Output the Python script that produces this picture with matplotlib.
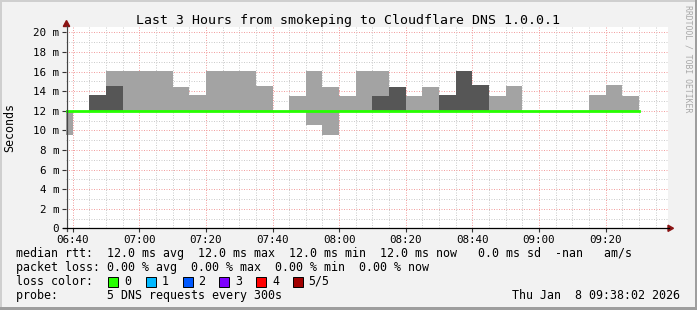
import numpy as np
import matplotlib.pyplot as plt
from matplotlib.patches import Rectangle, Polygon
from matplotlib.lines import Line2D
from matplotlib.ticker import MultipleLocator, FuncFormatter

# 5-minute smokeping slots (start time of each slot)
slot_start = ["06:35", "06:40", "06:45", "06:50", "06:55", "07:00", "07:05",
              "07:10", "07:15", "07:20", "07:25", "07:30", "07:35", "07:40",
              "07:45", "07:50", "07:55", "08:00", "08:05", "08:10", "08:15",
              "08:20", "08:25", "08:30", "08:35", "08:40", "08:45", "08:50",
              "08:55", "09:00", "09:05", "09:10", "09:15", "09:20", "09:25"]
nan = np.nan
# light smoke band (ms)
light_lo = [9.5, nan, nan, 12, 12, 12, 12, 12, 12, 12, 12, 12, 12, nan,
            12, 10.5, 9.5, 12, 12, 12, nan, 12, 12, nan, nan, nan, 12, 12,
            nan, nan, nan, nan, 12, 12, 12]
light_hi = [12, nan, nan, 16, 16, 16, 16, 14.4, 13.6, 16, 16, 16, 14.5, nan,
            13.5, 16, 14.4, 13.5, 16, 16, nan, 13.5, 14.4, nan, nan, nan, 13.5, 14.5,
            nan, nan, nan, nan, 13.6, 14.6, 13.5]
# dark smoke band (ms)
dark_lo = [nan, nan, 12, 12, nan, nan, nan, nan, nan, nan, nan, nan, nan, nan,
           nan, nan, nan, nan, nan, 12, 12, nan, nan, 12, 12, 12, nan, nan,
           nan, nan, nan, nan, nan, nan, nan]
dark_hi = [nan, nan, 13.6, 14.5, nan, nan, nan, nan, nan, nan, nan, nan, nan, nan,
           nan, nan, nan, nan, nan, 13.5, 14.4, nan, nan, 13.6, 16, 14.6, nan, nan,
           nan, nan, nan, nan, nan, nan, nan]
median = [12.0, 12.0, 12.0, 12.0, 12.0, 12.0, 12.0, 12.0, 12.0, 12.0, 12.0, 12.0,
          12.0, 12.0, 12.0, 12.0, 12.0, 12.0, 12.0, 12.0, 12.0, 12.0, 12.0, 12.0,
          12.0, 12.0, 12.0, 12.0, 12.0, 12.0, 12.0, 12.0, 12.0, 12.0, 12.0]

legend_rtt = "median rtt:  12.0 ms avg  12.0 ms max  12.0 ms min  12.0 ms now   0.0 ms sd  -nan   am/s"
legend_loss = "packet loss: 0.00 % avg  0.00 % max  0.00 % min  0.00 % now"
legend_probe = "probe:       5 DNS requests every 300s"
stamp = "Thu Jan  8 09:38:02 2026"
loss_labels = ["0", "1", "2", "3", "4", "5/5"]
loss_colors = ["#26ff00", "#00b8ff", "#0059ff", "#7e00ff", "#ff0000", "#a10000"]

W, H = 697, 310
FONT = "DejaVu Sans Mono"
plt.rcParams["font.family"] = FONT


def fx(x):
    return x / W


def fy(y):
    return 1 - y / H


def to_min(s):
    h, m = s.split(":")
    return int(h) * 60 + int(m)


fig = plt.figure(figsize=(W / 100, H / 100), dpi=100, facecolor="#f2f2f2")

# plot area in pixels
X0, X1 = 66.1, 668.3
Y0, Y1 = 228.3, 26.5
PX_MIN = 3.331
PX_MS = 9.8
T0 = 6 * 60 + 38 + 2 / 60

ax = fig.add_axes([fx(X0), fy(Y0), (X1 - X0) / W, (Y0 - Y1) / H])
ax.set_facecolor("white")
ax.set_xlim(T0, T0 + (X1 - X0) / PX_MIN)
ax.set_ylim(0, (Y0 - Y1) / PX_MS)
for s in ax.spines.values():
    s.set_visible(False)

t = np.array([to_min(s) for s in slot_start], dtype=float)
llo, lhi = np.array(light_lo), np.array(light_hi)
dlo, dhi = np.array(dark_lo), np.array(dark_hi)
m = ~np.isnan(llo)
ax.bar(t[m], lhi[m] - llo[m], bottom=llo[m], width=5, align="edge",
       color="#a3a3a3", linewidth=0, antialiased=False, zorder=2)
m = ~np.isnan(dlo)
ax.bar(t[m], dhi[m] - dlo[m], bottom=dlo[m], width=5, align="edge",
       color="#565656", linewidth=0, antialiased=False, zorder=3)
ax.step(np.append(t, t[-1] + 5), median + [median[-1]], where="post",
        color="#26ff00", linewidth=2.0, zorder=4)

ax.xaxis.set_major_locator(MultipleLocator(20))
ax.xaxis.set_minor_locator(MultipleLocator(5))
ax.yaxis.set_major_locator(MultipleLocator(2))
ax.yaxis.set_minor_locator(MultipleLocator(1))
ax.xaxis.set_major_formatter(FuncFormatter(lambda v, p: "%02d:%02d" % (int(round(v)) // 60, int(round(v)) % 60)))
ax.yaxis.set_major_formatter(FuncFormatter(lambda v, p: "0" if v == 0 else "%d m" % round(v)))
ax.set_axisbelow(True)
ax.grid(which="minor", color="#cdcdcd", linestyle=(0, (1, 1.5)), linewidth=0.72)
ax.grid(which="major", color="#f2a0a0", linestyle=(0, (1, 1.5)), linewidth=0.72)
ax.tick_params(which="major", length=3, width=0.8, color="#333333", direction="out",
               labelsize=7.8, pad=2)
ax.tick_params(which="minor", length=0)

# axes lines and arrows
fig.add_artist(Line2D([fx(66.5), fx(66.5)], [fy(231), fy(26)], color="#444444", linewidth=0.9))
fig.add_artist(Line2D([fx(62.5), fx(668.5)], [fy(228.3), fy(228.3)], color="#000000", linewidth=0.9))
fig.add_artist(Polygon([(fx(66.5), fy(20.5)), (fx(63.3), fy(26.5)), (fx(69.7), fy(26.5))],
                       closed=True, color="#8b1414"))
fig.add_artist(Polygon([(fx(673.5), fy(228.3)), (fx(668), fy(225.2)), (fx(668), fy(231.4))],
                       closed=True, color="#8b1414"))

# frame
fig.add_artist(Rectangle((0, fy(2)), 1, 2 / H, color="#cfcfcf", lw=0))
fig.add_artist(Rectangle((0, 0), fx(2), 1, color="#cfcfcf", lw=0))
fig.add_artist(Rectangle((0, 0), 1, 3 / H, color="#9e9e9e", lw=0))
fig.add_artist(Rectangle((fx(695), 0), fx(2), 1, color="#9e9e9e", lw=0))

fig.text(fx(348), fy(24), "Last 3 Hours from smokeping to Cloudflare DNS 1.0.0.1",
         ha="center", va="baseline", fontsize=9.5)
fig.text(fx(10), fy(127.5), "Seconds", rotation=90, ha="center", va="center", fontsize=8.4)
fig.text(fx(688), fy(5), "RRDTOOL / TOBI OETIKER", rotation=270, ha="center", va="top",
         fontsize=5.9, color="#a8a8a8")

# legend
fig.text(fx(16), fy(257), legend_rtt, ha="left", va="baseline", fontsize=8.4)
fig.text(fx(16), fy(271), legend_loss, ha="left", va="baseline", fontsize=8.4)
fig.text(fx(16), fy(285), "loss color:", ha="left", va="baseline", fontsize=8.4)
box_x = [108, 146, 183, 219, 256, 293]
lab_x = [124, 162, 198, 235, 272, 308]
for bx, lx, lab, col in zip(box_x, lab_x, loss_labels, loss_colors):
    fig.add_artist(Rectangle((fx(bx), fy(287)), 10 / W, 10 / H, facecolor=col,
                             edgecolor="#000000", linewidth=0.7))
    fig.text(fx(lx), fy(285), lab, ha="left", va="baseline", fontsize=8.4)
fig.text(fx(16), fy(299), legend_probe, ha="left", va="baseline", fontsize=8.4)
fig.text(fx(680), fy(299), stamp, ha="right", va="baseline", fontsize=8.4)

fig.savefig("out.png", dpi=100, facecolor=fig.get_facecolor())
